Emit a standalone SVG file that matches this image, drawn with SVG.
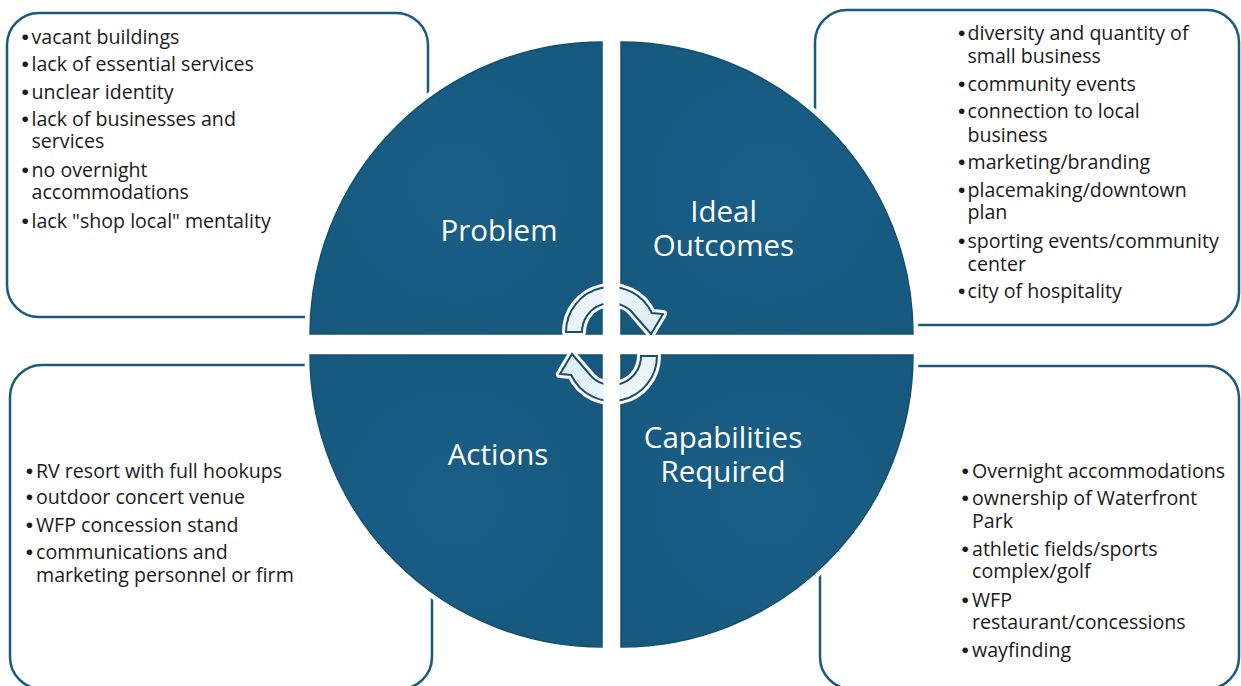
<svg xmlns="http://www.w3.org/2000/svg" width="1241" height="686" viewBox="0 0 1241 686">
<style>
.box{fill:#fff;stroke:#1b5a7a;stroke-width:2.5}
.halo{fill:none;stroke:#fff;stroke-width:11;stroke-linejoin:round}
.quad{fill:url(#qg);stroke:#15506f;stroke-width:1.5}
.bt{font-family:'Open Sans','Liberation Sans',sans-serif;font-size:19.6px;fill:#1a1a1a}
.b{font-family:'Liberation Sans',sans-serif;font-size:21px}
.tt{font-family:'Open Sans','Liberation Sans',sans-serif;font-size:29.5px;fill:#fff;text-anchor:middle}
.arrow{fill:url(#ag);stroke:#17506e;stroke-width:2;stroke-linejoin:miter}
.ahalo{fill:none;stroke:#fff;stroke-width:8;stroke-linejoin:round}
</style>
<defs>
<radialGradient id="qg" cx="0.5" cy="0.5" r="0.7">
<stop offset="0" stop-color="#1a5f87"/>
<stop offset="1" stop-color="#16587d"/>
</radialGradient>
<linearGradient id="ag" x1="0" y1="0" x2="1" y2="1">
<stop offset="0" stop-color="#f4fafc"/>
<stop offset="1" stop-color="#d9ecf3"/>
</linearGradient>
<path id="arr" d="M566,332 A45,45 0 0 1 651.8,313 L663,314 L651,334 L630.8,310.8 A29,29 0 0 0 582,332 Z"/>
</defs>
<rect width="1241" height="686" fill="#fff"/>

<g id="box-problem">
<rect class="box" x="7" y="13" width="421" height="304" rx="32"/>
<text class="bt" y="43.5"><tspan class="b" x="21.4">•</tspan><tspan x="31.5">vacant buildings</tspan></text>
<text class="bt" y="70.7"><tspan class="b" x="21.4">•</tspan><tspan x="31.5">lack of essential services</tspan></text>
<text class="bt" y="98.7"><tspan class="b" x="21.4">•</tspan><tspan x="31.5">unclear identity</tspan></text>
<text class="bt" y="126"><tspan class="b" x="21.4">•</tspan><tspan x="31.5">lack of businesses and</tspan></text>
<text class="bt" x="31.5" y="148.3">services</text>
<text class="bt" y="176.7"><tspan class="b" x="21.4">•</tspan><tspan x="31.5">no overnight</tspan></text>
<text class="bt" x="31.5" y="199">accommodations</text>
<text class="bt" y="227.7"><tspan class="b" x="21.4">•</tspan><tspan x="31.5">lack "shop local" mentality</tspan></text>
</g>

<g id="box-outcomes">
<rect class="box" x="815" y="10" width="424" height="315" rx="32"/>
<text class="bt" y="40"><tspan class="b" x="958">•</tspan><tspan x="967.5">diversity and quantity of</tspan></text>
<text class="bt" x="967.5" y="63.3">small business</text>
<text class="bt" y="90.7"><tspan class="b" x="958">•</tspan><tspan x="967.5">community events</tspan></text>
<text class="bt" y="118.3"><tspan class="b" x="958">•</tspan><tspan x="967.5">connection to local</tspan></text>
<text class="bt" x="967.5" y="141.7">business</text>
<text class="bt" y="169"><tspan class="b" x="958">•</tspan><tspan x="967.5">marketing/branding</tspan></text>
<text class="bt" y="196.7"><tspan class="b" x="958">•</tspan><tspan x="967.5">placemaking/downtown</tspan></text>
<text class="bt" x="967.5" y="219.3">plan</text>
<text class="bt" y="247.7"><tspan class="b" x="958">•</tspan><tspan x="967.5">sporting events/community</tspan></text>
<text class="bt" x="967.5" y="270.7">center</text>
<text class="bt" y="298.3"><tspan class="b" x="958">•</tspan><tspan x="967.5">city of hospitality</tspan></text>
</g>

<g id="box-actions">
<rect class="box" x="10" y="365" width="422" height="324" rx="32"/>
<text class="bt" y="477.7"><tspan class="b" x="25.7">•</tspan><tspan x="36">RV resort with full hookups</tspan></text>
<text class="bt" y="504.3"><tspan class="b" x="25.7">•</tspan><tspan x="36">outdoor concert venue</tspan></text>
<text class="bt" y="531.7"><tspan class="b" x="25.7">•</tspan><tspan x="36">WFP concession stand</tspan></text>
<text class="bt" y="559.3"><tspan class="b" x="25.7">•</tspan><tspan x="36">communications and</tspan></text>
<text class="bt" x="36" y="582.3">marketing personnel or firm</text>
</g>

<g id="box-capabilities">
<rect class="box" x="820" y="366" width="419" height="323" rx="32"/>
<text class="bt" y="477.7"><tspan class="b" x="961.4">•</tspan><tspan x="972">Overnight accommodations</tspan></text>
<text class="bt" y="505"><tspan class="b" x="961.4">•</tspan><tspan x="972">ownership of Waterfront</tspan></text>
<text class="bt" x="972" y="528.3">Park</text>
<text class="bt" y="556"><tspan class="b" x="961.4">•</tspan><tspan x="972">athletic fields/sports</tspan></text>
<text class="bt" x="972" y="578.3">complex/golf</text>
<text class="bt" y="606.7"><tspan class="b" x="961.4">•</tspan><tspan x="972">WFP</tspan></text>
<text class="bt" x="972" y="629.3">restaurant/concessions</text>
<text class="bt" y="657.3"><tspan class="b" x="961.4">•</tspan><tspan x="972">wayfinding</tspan></text>
</g>

<g id="halos">
<path class="halo" d="M602,334 L310,334 A292,292 0 0 1 602,42 Z"/>
<path class="halo" d="M621,334 L621,42 A292,292 0 0 1 913,334 Z"/>
<path class="halo" d="M602,355 L602,647 A292,292 0 0 1 310,355 Z"/>
<path class="halo" d="M621,355 L913,355 A292,292 0 0 1 621,647 Z"/>
</g>

<g id="problem">
<path class="quad" d="M602,334 L310,334 A292,292 0 0 1 602,42 Z"/>
<text class="tt" x="499" y="240.7">Problem</text>
</g>
<g id="ideal-outcomes">
<path class="quad" d="M621,334 L621,42 A292,292 0 0 1 913,334 Z"/>
<text class="tt" x="723.5" y="222.3">Ideal</text>
<text class="tt" x="723.5" y="255.7">Outcomes</text>
</g>
<g id="actions">
<path class="quad" d="M602,355 L602,647 A292,292 0 0 1 310,355 Z"/>
<text class="tt" x="498" y="465">Actions</text>
</g>
<g id="capabilities-required">
<path class="quad" d="M621,355 L913,355 A292,292 0 0 1 621,647 Z"/>
<text class="tt" x="723" y="448.3">Capabilities</text>
<text class="tt" x="723" y="481.7">Required</text>
</g>

<g id="connectors">
<use href="#arr" class="ahalo"/>
<use href="#arr" class="ahalo" transform="rotate(180 611.5 344)"/>
<use href="#arr" class="arrow"/>
<use href="#arr" class="arrow" transform="rotate(180 611.5 344)"/>
<rect x="603.5" y="275" width="16" height="140" fill="#fff"/>
</g>
</svg>
